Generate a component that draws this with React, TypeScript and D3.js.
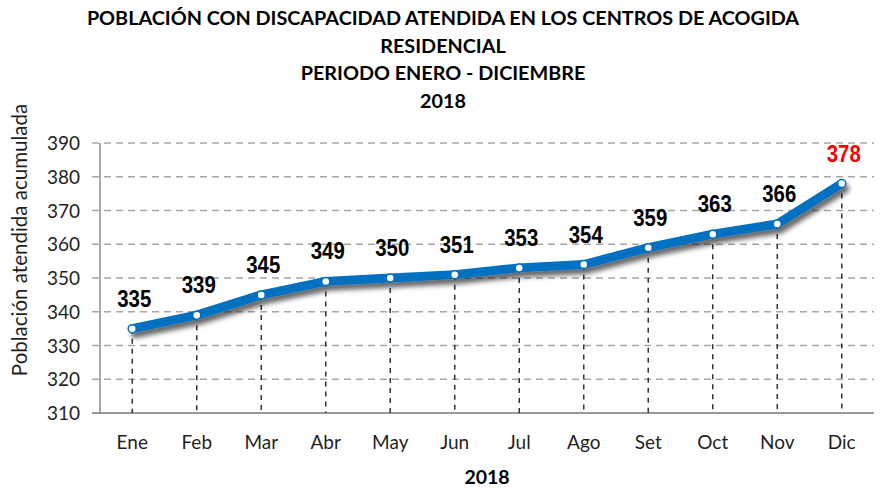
import React from "react";
import * as d3 from "d3";

const months = ["Ene", "Feb", "Mar", "Abr", "May", "Jun", "Jul", "Ago", "Set", "Oct", "Nov", "Dic"];
const values = [335, 339, 345, 349, 350, 351, 353, 354, 359, 363, 366, 378];
const yTicks = [310, 320, 330, 340, 350, 360, 370, 380, 390];
const titleLines = [
  "POBLACIÓN CON DISCAPACIDAD ATENDIDA EN LOS CENTROS DE ACOGIDA",
  "RESIDENCIAL",
  "PERIODO ENERO - DICIEMBRE",
  "2018",
];
const yAxisTitle = "Población atendida acumulada";
const xAxisTitle = "2018";

const W = 886;
const H = 488;
const left = 100;
const right = 874;
const top = 143;
const bottom = 413;

export default function App() {
  const x = d3.scaleBand<string>().domain(months).range([left, right]);
  const y = d3.scaleLinear().domain([310, 390]).range([bottom, top]);
  const cx = (m: string) => (x(m) as number) + x.bandwidth() / 2;
  const pts: [number, number][] = months.map((m, i) => [cx(m), y(values[i])]);
  const line = d3.line<[number, number]>().x((d) => d[0]).y((d) => d[1]);
  const sans = "Lato, 'Open Sans', sans-serif";
  const bold = "'Liberation Sans', Arial, sans-serif";
  const maxI = values.length - 1;

  return (
    <svg width={W} height={H} style={{ position: "absolute", left: 0, top: 0, background: "#fff" }}>
      <defs>
        <filter id="sh" x="-10%" y="-50%" width="120%" height="200%">
          <feGaussianBlur in="SourceAlpha" stdDeviation="2.5" />
          <feOffset dx="3" dy="5" result="b" />
          <feComponentTransfer>
            <feFuncA type="linear" slope="0.6" />
          </feComponentTransfer>
          <feMerge>
            <feMergeNode />
            <feMergeNode in="SourceGraphic" />
          </feMerge>
        </filter>
      </defs>
      {titleLines.map((t, i) => (
        <text key={i} x={443} y={25 + i * 27.5} textAnchor="middle" fontFamily={sans} fontWeight="bold" fontSize={19.8} fill="#000">
          {t}
        </text>
      ))}
      {yTicks.map((t) => (
        <g key={t}>
          <line x1={left - 8} x2={right} y1={y(t)} y2={y(t)} stroke="#a6a6a6" strokeWidth={1.3} strokeDasharray={t === 310 ? "none" : "7,5"} />
          <text x={80} y={y(t) + 7} textAnchor="end" fontFamily={sans} fontSize={19} fill="#1f1f1f">
            {t}
          </text>
        </g>
      ))}
      <line x1={left} x2={left} y1={top} y2={bottom} stroke="#8c8c8c" strokeWidth={1.5} />
      <line x1={left - 8} x2={right} y1={bottom} y2={bottom} stroke="#8c8c8c" strokeWidth={1.5} />
      {pts.map((p, i) => (
        <line key={i} x1={p[0]} x2={p[0]} y1={p[1]} y2={bottom} stroke="#333" strokeWidth={1.5} strokeDasharray="5,5" />
      ))}
      <path d={line(pts) || ""} fill="none" stroke="#0070c0" strokeWidth={9} strokeLinejoin="round" strokeLinecap="round" filter="url(#sh)" />
      {pts.map((p, i) => (
        <circle key={i} cx={p[0]} cy={p[1]} r={4} fill="#fff" stroke="#0070c0" strokeWidth={1.5} />
      ))}
      {pts.map((p, i) => (
        <text key={i} transform={`translate(${p[0] + 2},${p[1] - 22}) scale(0.85,1)`} textAnchor="middle" fontFamily={bold} fontWeight="bold" fontSize={24} fill={i === maxI ? "#ff0000" : "#000"}>
          {values[i]}
        </text>
      ))}
      {months.map((m) => (
        <text key={m} x={cx(m)} y={449} textAnchor="middle" fontFamily={sans} fontSize={19} fill="#1f1f1f">
          {m}
        </text>
      ))}
      <text x={487} y={484} textAnchor="middle" fontFamily={sans} fontWeight="bold" fontSize={19.5} fill="#000">
        {xAxisTitle}
      </text>
      <text transform={`translate(27,240) rotate(-90)`} textAnchor="middle" fontFamily={sans} fontSize={20.5} fill="#1f1f1f">
        {yAxisTitle}
      </text>
    </svg>
  );
}
